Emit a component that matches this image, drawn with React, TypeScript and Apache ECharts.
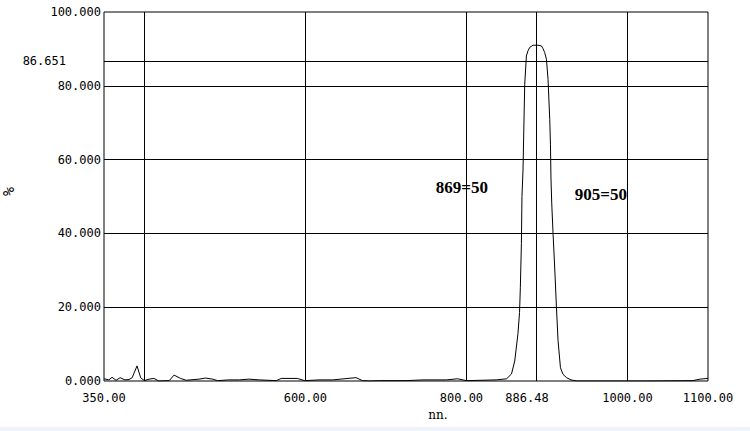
import React, { useEffect, useRef } from "react";
import * as echarts from "echarts";

const wavelengths = [350,356,360,365,370,376,381,385,391,395.5,400,406,412,418,431,437,445,452,468,476,485,491,505,518,530,543,564,570,590,599,617,634,653,663,671,680,692,725,746,775,789,800,837,850,856,860,864,866,867,868.3,869,870.3,872.4,874.5,876.5,878.6,882.7,888.9,893.1,895.1,897.2,899.4,901.4,903.5,904.4,905,906,907.6,910,911.8,913.8,916.8,920,924.3,930,937,990,1024,1081,1090,1100];
const transmittance = [0.6,0.3,1.0,0.2,0.9,0.3,0.4,0.9,4.1,0.9,0.1,0.5,0.7,0.0,0.1,1.6,0.7,0.2,0.5,0.8,0.5,0.1,0.3,0.3,0.5,0.3,0.1,0.7,0.7,0.1,0.3,0.3,0.7,0.9,0.1,0.0,0.1,0.1,0.3,0.3,0.6,0.1,0.3,0.6,1.9,5.4,12.8,18.6,25.4,37.3,50,57.2,80.4,88.1,89.5,90.4,91.0,91.0,90.8,90.1,89.0,87.2,81.7,70.8,64,55,48,40,29,20,10.9,3.6,1.8,0.9,0.3,0,0,0,0.1,0.5,0.7];

const xTickLabels = [350, 600, 800, 886.48, 1000, 1100];
const xGridLines = [400, 600, 800, 886.48, 1000];
const yGridLines = [20, 40, 60, 80];
const markerLevel = 86.651;
const halfPoints = [
  { wl: 869, t: 50, text: "869=50" },
  { wl: 905, t: 50, text: "905=50" },
];

export default function App() {
  const ref = useRef<HTMLDivElement>(null);
  useEffect(() => {
    if (!ref.current) return;
    const chart = echarts.init(ref.current, null, { renderer: "svg" });
    const mono = "DejaVu Sans Mono";
    const xLabelPad: Record<string, number[]> = {
      "800": [0, 10, 0, 0],
      "886.48": [0, 18, 0, 0],
    };
    const seriesData = wavelengths.map((w, i) => [w, transmittance[i]]);
    chart.setOption({
      animation: false,
      backgroundColor: "#ffffff",
      grid: {
        left: 104,
        right: 42,
        top: 12,
        bottom: 50,
        containLabel: false,
        outerBoundsMode: "none",
        show: true,
        borderColor: "#000",
        borderWidth: 1,
        backgroundColor: "transparent",
      },
      xAxis: {
        type: "value",
        min: 350,
        max: 1100,
        axisLine: { show: false },
        axisTick: { show: false },
        splitLine: { show: false },
        axisLabel: {
          customValues: xTickLabels,
          color: "#000",
          fontFamily: mono,
          fontSize: 12,
          margin: 11,
          formatter: (v: number) => {
            const s = v.toFixed(2);
            const key = String(v);
            return xLabelPad[key] ? `{p${key.replace(".", "_")}|${s}}` : s;
          },
          rich: {
            p800: { padding: xLabelPad["800"], fontFamily: mono, fontSize: 12, color: "#000" },
            "p886_48": { padding: xLabelPad["886.48"], fontFamily: mono, fontSize: 12, color: "#000" },
          },
        },
        name: "nn.",
        nameLocation: "middle",
        nameGap: 21,
        nameTextStyle: {
          color: "#000",
          fontFamily: "DejaVu Serif",
          fontSize: 12,
          padding: [0, 0, 0, 64],
        },
      },
      yAxis: {
        type: "value",
        min: 0,
        max: 100,
        interval: 20,
        axisLine: { show: false },
        axisTick: { show: false },
        splitLine: { show: false },
        axisLabel: {
          color: "#000",
          fontFamily: mono,
          fontSize: 12,
          margin: 3,
          formatter: (v: number) => v.toFixed(3),
        },
        name: "%",
        nameLocation: "middle",
        nameRotate: 90,
        nameGap: 88,
        nameTextStyle: { color: "#000", fontFamily: mono, fontSize: 15, padding: [0, 0, 0, 10] },
      },
      graphic: [
        {
          type: "rect",
          left: 0,
          bottom: 0,
          shape: { width: 750, height: 4 },
          style: { fill: "#EEF3FC" },
          silent: true,
        },
      ],
      series: [
        {
          type: "line",
          data: seriesData,
          showSymbol: false,
          symbol: "none",
          lineStyle: { color: "#000", width: 1 },
          z: 3,
          markLine: {
            silent: true,
            symbol: ["none", "none"],
            animation: false,
            lineStyle: { color: "#000", width: 1, type: "solid" },
            label: { show: false },
            data: [
              ...xGridLines.map((v) => ({ xAxis: v })),
              ...yGridLines.map((v) => ({ yAxis: v })),
              {
                yAxis: markerLevel,
                label: {
                  show: true,
                  position: "start",
                  distance: 38,
                  formatter: markerLevel.toFixed(3),
                  color: "#000",
                  fontFamily: mono,
                  fontSize: 12,
                },
              },
            ],
          },
          markPoint: {
            silent: true,
            symbol: "circle",
            symbolSize: 0,
            itemStyle: { color: "transparent" },
            label: {
              show: true,
              position: "inside",
              color: "#000",
              fontFamily: "Liberation Serif",
              fontWeight: "bold",
              fontSize: 17,
            },
            data: halfPoints.map((p, i) => ({
              coord: [p.wl, p.t],
              value: p.text,
              label: {
                formatter: p.text,
                offset: i === 0 ? [-60, -9] : [50, -2],
              },
            })),
          },
        },
      ],
    });
    return () => chart.dispose();
  }, []);
  return (
    <div
      ref={ref}
      style={{ position: "fixed", left: 0, top: 0, width: 750, height: 431 }}
    />
  );
}
